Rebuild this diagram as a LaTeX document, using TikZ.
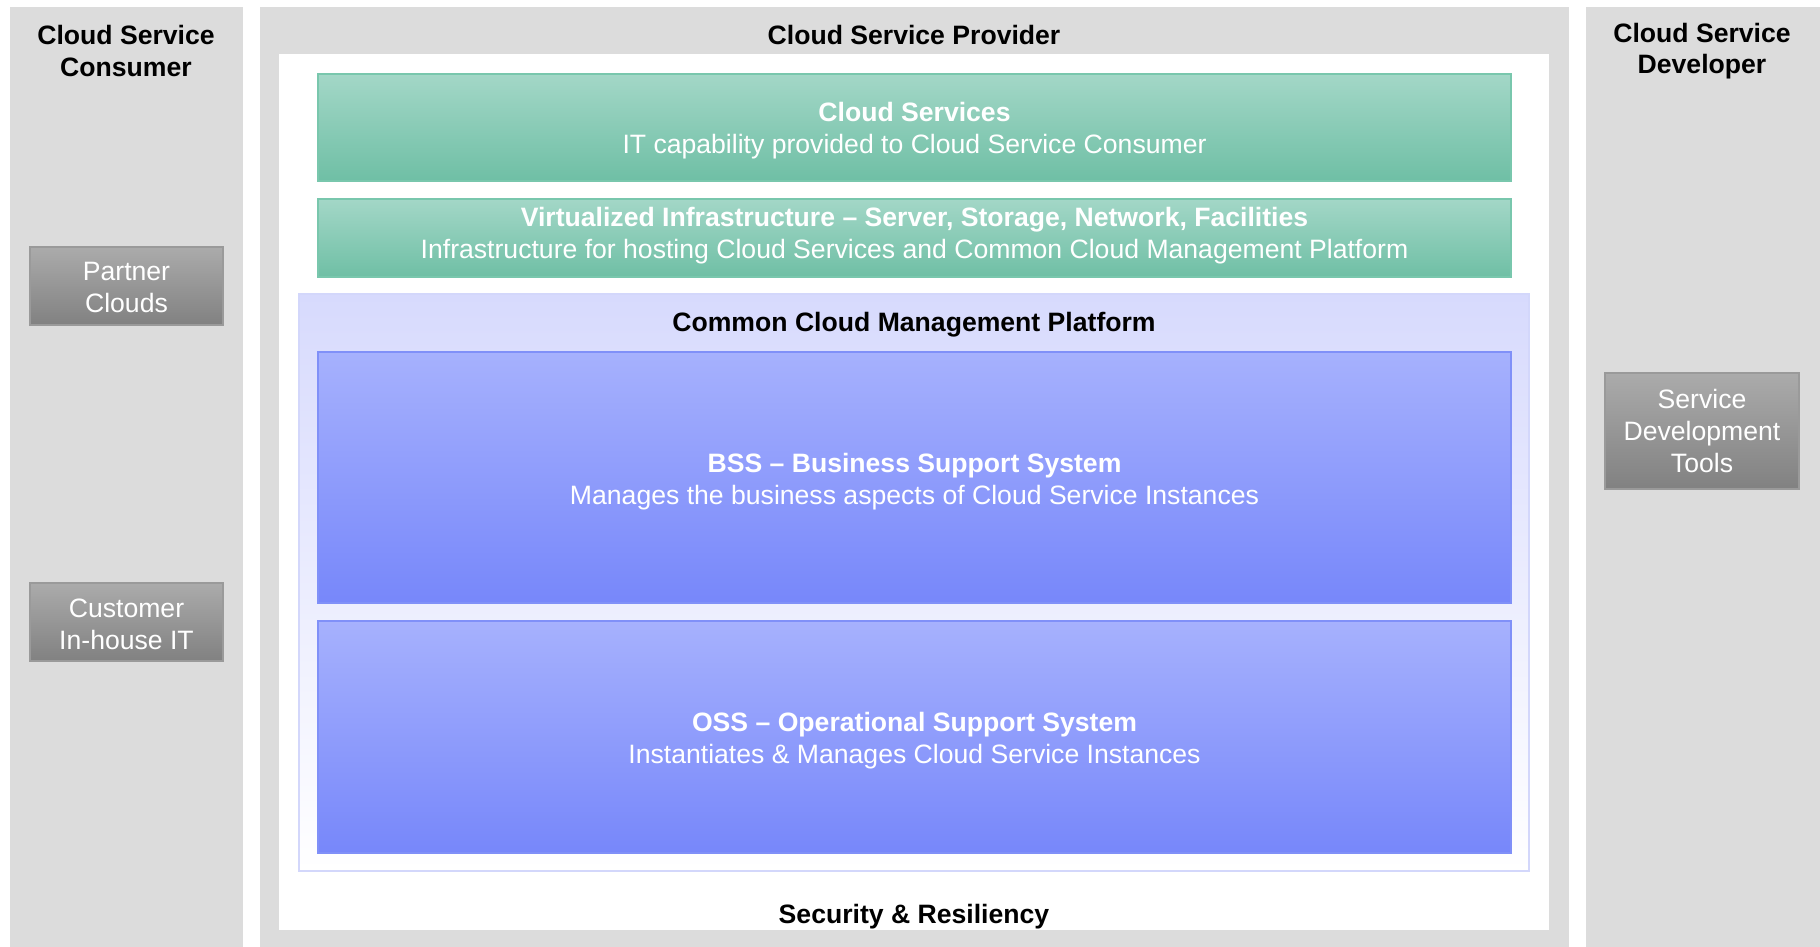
\documentclass[tikz,border=0pt]{standalone}
\usepackage{fontspec}
\setmainfont{Liberation Sans}
\definecolor{colgray}{HTML}{DCDCDC}
\definecolor{grtop}{HTML}{A3D7C7}
\definecolor{grbot}{HTML}{6FBFA5}
\definecolor{grline}{HTML}{79C7AD}
\definecolor{bltop}{HTML}{A6B1FD}
\definecolor{blmid}{HTML}{97A4FC}
\definecolor{blbot}{HTML}{7787FA}
\definecolor{blline}{HTML}{8090F8}
\definecolor{lvtop}{HTML}{D7DAFD}
\definecolor{lvline}{HTML}{D3D7FB}
\definecolor{gytop}{HTML}{ABABAB}
\definecolor{gybot}{HTML}{818181}
\definecolor{gyline}{HTML}{9A9A9A}
\tikzset{
  every node/.style={inner sep=0pt, outer sep=0pt, font=\fontsize{13.3}{16}\selectfont, align=center},
  column/.style={fill=colgray, draw=none},
  greenbox/.style={draw=grline, line width=0.8pt, top color=grtop, bottom color=grbot},
  bluebox/.style={draw=blline, line width=0.8pt, top color=bltop, middle color=blmid, bottom color=blbot},
  lavbox/.style={draw=lvline, line width=0.8pt, top color=lvtop, bottom color=white},
  graybox/.style={draw=gyline, line width=0.8pt, top color=gytop, bottom color=gybot},
  boxtext/.style={text=white},
  title/.style={font=\fontsize{13.3}{15.6}\selectfont\bfseries, text=black}
}
\begin{document}
\begin{tikzpicture}[x=0.5pt, y=-0.5pt]
\useasboundingbox (0,0) rectangle (1820,947);
\fill[white] (0,0) rectangle (1820,947);
% columns
\node[column, minimum width=116.5pt, minimum height=470pt] (cons) at (126.5,477) {};
\node[column, minimum width=654.5pt, minimum height=470pt] (prov) at (914.5,477) {};
\node[column, minimum width=117pt, minimum height=470pt] (dev) at (1703,477) {};
\node[fill=white, minimum width=635pt, minimum height=438pt] (inner) at (914,492) {};
% titles
\node[title] (constitle) at (126,51) {Cloud Service\\Consumer};
\node[title] (provtitle) at (914,35) {Cloud Service Provider};
\node[title] (devtitle) at (1702,51) {Cloud Service\\Developer};
% cloud services
\node[greenbox, minimum width=596.5pt, minimum height=53.5pt] (cs) at (914.5,127.5) {};
\node[boxtext] (cstext) at (914.5,131) {\textbf{Cloud Services}\\IT capability provided to Cloud Service Consumer};
\node[greenbox, minimum width=596.5pt, minimum height=39pt] (vi) at (914.5,238) {};
\node[boxtext] (vitext) at (914.5,236) {\textbf{Virtualized Infrastructure -- Server, Storage, Network, Facilities}\\Infrastructure for hosting Cloud Services and Common Cloud Management Platform};
% CCMP
\node[lavbox, minimum width=615pt, minimum height=288.5pt] (ccmp) at (914,582.5) {};
\node[title] (ccmptitle) at (914,325) {Common Cloud Management Platform};
\node[bluebox, minimum width=596.5pt, minimum height=125.5pt] (bss) at (914.5,477.5) {};
\node[boxtext] (bsstext) at (914.5,481.5) {\textbf{BSS -- Business Support System}\\Manages the business aspects of Cloud Service Instances};
\node[bluebox, minimum width=596.5pt, minimum height=116pt] (oss) at (914.5,737) {};
\node[boxtext] (osstext) at (914.5,741) {\textbf{OSS -- Operational Support System}\\Instantiates \& Manages Cloud Service Instances};
\node[title] (sec) at (914,917) {Security \& Resiliency};
% side boxes
\node[graybox, minimum width=96.5pt, minimum height=39pt] (partner) at (126.5,286) {};
\node[boxtext] (partnertext) at (126.5,287.5) {Partner\\Clouds};
\node[graybox, minimum width=96.5pt, minimum height=39pt] (customer) at (126.5,622) {};
\node[boxtext] (customertext) at (126.5,624.5) {Customer\\In-house IT};
\node[graybox, minimum width=97pt, minimum height=58pt] (sdt) at (1702,431) {};
\node[boxtext] (sdttext) at (1702,431) {Service\\Development\\Tools};
\end{tikzpicture}
\end{document}
